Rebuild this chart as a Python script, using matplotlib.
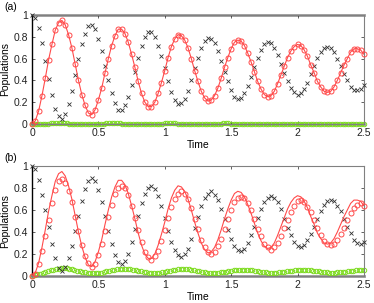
import numpy as np
import matplotlib
matplotlib.use("Agg")
import matplotlib.pyplot as plt

plt.rcParams["font.family"] = ["Liberation Sans", "DejaVu Sans"]

# time grid of the red / black samples (step 0.025) and of the green samples (step 0.02)
t = np.linspace(0, 2.5, 101)
t_g = np.linspace(0, 2.5, 126)

# panel (a): red curve (line and circles coincide), black crosses, green circles
red_a = [0.00, 0.03, 0.12, 0.26, 0.42, 0.59, 0.73, 0.86, 0.93, 0.95,
         0.91, 0.82, 0.70, 0.55, 0.40, 0.27, 0.17, 0.10, 0.085, 0.13,
         0.22, 0.33, 0.47, 0.60, 0.72, 0.81, 0.87, 0.87, 0.83, 0.75,
         0.64, 0.52, 0.39, 0.28, 0.20, 0.16, 0.16, 0.20, 0.28, 0.38,
         0.49, 0.61, 0.71, 0.78, 0.82, 0.81, 0.77, 0.70, 0.60, 0.49,
         0.39, 0.30, 0.24, 0.21, 0.22, 0.26, 0.33, 0.42, 0.52, 0.61,
         0.69, 0.75, 0.77, 0.76, 0.72, 0.65, 0.57, 0.48, 0.39, 0.32,
         0.27, 0.25, 0.26, 0.30, 0.37, 0.45, 0.53, 0.61, 0.67, 0.71,
         0.73, 0.72, 0.68, 0.62, 0.54, 0.47, 0.39, 0.34, 0.30, 0.29,
         0.30, 0.34, 0.40, 0.47, 0.54, 0.60, 0.66, 0.69, 0.69, 0.68,
         0.64]
black_a = [1.00, 0.97, 0.88, 0.74, 0.58, 0.41, 0.27, 0.14, 0.07, 0.05,
           0.09, 0.18, 0.30, 0.45, 0.60, 0.73, 0.83, 0.90, 0.91, 0.87,
           0.78, 0.67, 0.53, 0.40, 0.28, 0.19, 0.13, 0.13, 0.17, 0.25,
           0.36, 0.48, 0.61, 0.72, 0.80, 0.84, 0.84, 0.80, 0.72, 0.62,
           0.51, 0.39, 0.29, 0.22, 0.18, 0.19, 0.23, 0.30, 0.40, 0.51,
           0.61, 0.70, 0.76, 0.79, 0.78, 0.74, 0.67, 0.58, 0.48, 0.39,
           0.31, 0.25, 0.23, 0.24, 0.28, 0.35, 0.43, 0.52, 0.61, 0.68,
           0.73, 0.75, 0.74, 0.70, 0.63, 0.55, 0.47, 0.39, 0.33, 0.29,
           0.27, 0.28, 0.32, 0.38, 0.46, 0.53, 0.61, 0.66, 0.70, 0.71,
           0.70, 0.66, 0.60, 0.53, 0.46, 0.40, 0.34, 0.31, 0.31, 0.32,
           0.36]
green_a = [0.000, 0.001, 0.002, 0.003, 0.003, 0.004, 0.004, 0.005, 0.005, 0.005,
           0.005, 0.005, 0.005, 0.005, 0.004, 0.004, 0.003, 0.003, 0.003, 0.003,
           0.003, 0.003, 0.003, 0.003, 0.003, 0.004, 0.004, 0.004, 0.005, 0.005,
           0.005, 0.005, 0.005, 0.005, 0.004, 0.004, 0.004, 0.003, 0.003, 0.003,
           0.003, 0.003, 0.003, 0.003, 0.003, 0.003, 0.004, 0.004, 0.004, 0.004,
           0.005, 0.005, 0.005, 0.005, 0.005, 0.004, 0.004, 0.004, 0.004, 0.003,
           0.003, 0.003, 0.003, 0.003, 0.003, 0.003, 0.003, 0.004, 0.004, 0.004,
           0.004, 0.004, 0.005, 0.005, 0.005, 0.004, 0.004, 0.004, 0.004, 0.004,
           0.003, 0.003, 0.003, 0.003, 0.003, 0.003, 0.003, 0.004, 0.004, 0.004,
           0.004, 0.004, 0.004, 0.004, 0.004, 0.004, 0.004, 0.004, 0.004, 0.004,
           0.003, 0.003, 0.003, 0.003, 0.003, 0.003, 0.003, 0.004, 0.004, 0.004,
           0.004, 0.004, 0.004, 0.004, 0.004, 0.004, 0.004, 0.004, 0.004, 0.004,
           0.003, 0.003, 0.003, 0.003, 0.003, 0.003]

# panel (b): same red line, lagging red circles, black crosses, green circles
red_b = [0.00, 0.02, 0.11, 0.23, 0.36, 0.51, 0.66, 0.78, 0.86, 0.88,
         0.85, 0.77, 0.67, 0.54, 0.41, 0.28, 0.18, 0.12, 0.085, 0.11,
         0.19, 0.29, 0.41, 0.54, 0.65, 0.75, 0.80, 0.82, 0.80, 0.74,
         0.64, 0.53, 0.42, 0.31, 0.22, 0.17, 0.15, 0.18, 0.23, 0.32,
         0.42, 0.53, 0.63, 0.70, 0.75, 0.77, 0.75, 0.70, 0.62, 0.52,
         0.43, 0.33, 0.26, 0.22, 0.20, 0.22, 0.27, 0.34, 0.43, 0.52,
         0.60, 0.67, 0.71, 0.72, 0.71, 0.66, 0.60, 0.52, 0.43, 0.36,
         0.29, 0.26, 0.24, 0.26, 0.30, 0.36, 0.44, 0.51, 0.58, 0.64,
         0.68, 0.69, 0.67, 0.63, 0.58, 0.51, 0.44, 0.37, 0.32, 0.29,
         0.28, 0.29, 0.33, 0.38, 0.44, 0.51, 0.57, 0.62, 0.65, 0.66,
         0.64]
black_b = [1.00, 0.97, 0.87, 0.74, 0.60, 0.45, 0.29, 0.16, 0.07, 0.05,
           0.08, 0.16, 0.27, 0.41, 0.55, 0.68, 0.79, 0.86, 0.89, 0.86,
           0.78, 0.67, 0.55, 0.41, 0.29, 0.19, 0.13, 0.11, 0.14, 0.20,
           0.31, 0.43, 0.55, 0.66, 0.75, 0.80, 0.82, 0.79, 0.73, 0.64,
           0.53, 0.41, 0.31, 0.24, 0.19, 0.17, 0.20, 0.25, 0.34, 0.44,
           0.54, 0.64, 0.71, 0.75, 0.77, 0.74, 0.69, 0.61, 0.52, 0.42,
           0.34, 0.27, 0.24, 0.23, 0.25, 0.30, 0.37, 0.45, 0.53, 0.61,
           0.67, 0.71, 0.73, 0.71, 0.67, 0.61, 0.52, 0.44, 0.37, 0.31,
           0.27, 0.26, 0.28, 0.33, 0.38, 0.45, 0.52, 0.59, 0.65, 0.68,
           0.69, 0.68, 0.64, 0.59, 0.52, 0.45, 0.39, 0.33, 0.30, 0.29,
           0.31]
green_b = [0.000, 0.006, 0.014, 0.022, 0.030, 0.037, 0.044, 0.051, 0.057, 0.063,
           0.067, 0.069, 0.070, 0.069, 0.066, 0.062, 0.056, 0.050, 0.044, 0.038,
           0.033, 0.028, 0.025, 0.024, 0.025, 0.027, 0.031, 0.035, 0.041, 0.047,
           0.052, 0.057, 0.061, 0.064, 0.066, 0.066, 0.064, 0.061, 0.057, 0.052,
           0.046, 0.041, 0.036, 0.032, 0.028, 0.027, 0.026, 0.027, 0.030, 0.034,
           0.038, 0.043, 0.048, 0.053, 0.057, 0.060, 0.062, 0.063, 0.062, 0.060,
           0.056, 0.052, 0.047, 0.043, 0.038, 0.034, 0.031, 0.029, 0.028, 0.028,
           0.030, 0.032, 0.036, 0.040, 0.045, 0.049, 0.053, 0.056, 0.058, 0.059,
           0.059, 0.058, 0.055, 0.052, 0.048, 0.044, 0.040, 0.036, 0.033, 0.031,
           0.029, 0.029, 0.030, 0.032, 0.035, 0.038, 0.042, 0.046, 0.049, 0.052,
           0.054, 0.056, 0.056, 0.056, 0.054, 0.052, 0.048, 0.045, 0.041, 0.038,
           0.035, 0.033, 0.031, 0.030, 0.031, 0.032, 0.034, 0.036, 0.039, 0.043,
           0.046, 0.049, 0.051, 0.052, 0.053, 0.053]

# grey reference levels drawn in each panel
grey_a = [0.0, 1.0]
grey_b = [0.0]

x_ticks = [0, 0.5, 1, 1.5, 2, 2.5]
x_labels = ["0", "0.5", "1", "1.5", "2", "2.5"]
y_ticks = [0, 0.2, 0.4, 0.6, 0.8, 1]
y_labels = ["0", "0.2", "0.4", "0.6", "0.8", "1"]

RED = "#ff4a4a"
GREEN = "#7ddc1f"
BLACK = "#303030"
GREY = "#9a9a9a"

fig = plt.figure(figsize=(3.74, 3.03), dpi=100)
ax_a = fig.add_axes([0.0856, 0.5908, 0.8874, 0.3597])
ax_b = fig.add_axes([0.0856, 0.0891, 0.8874, 0.3630])


def draw_panel(ax, red_line, red_pts, black_pts, green_pts, grey_levels, tag):
    for g in grey_levels:
        ax.axhline(g, color=GREY, lw=2.0, zorder=1, clip_on=False)
    ax.plot(t_g, green_pts, "o", mfc="none", mec=GREEN, ms=3.2, mew=0.7,
            clip_on=False, zorder=2)
    ax.plot(t, black_pts, "x", color=BLACK, ms=2.6, mew=0.6, clip_on=False, zorder=3)
    ax.plot(t, red_line, "-", color=RED, lw=0.8, zorder=4)
    ax.plot(t, red_pts, "o", mfc="none", mec=RED, ms=3.6, mew=0.7,
            clip_on=False, zorder=5)

    ax.set_xlim(0, 2.5)
    ax.set_ylim(0, 1)
    ax.set_xticks(x_ticks)
    ax.set_xticklabels(x_labels)
    ax.set_yticks(y_ticks)
    ax.set_yticklabels(y_labels)
    ax.tick_params(direction="in", top=True, right=True, length=2.2, width=0.5,
                   labelsize=7.5, pad=3, colors="#222222")
    for side in ["top", "right", "bottom"]:
        ax.spines[side].set_color("#808080")
        ax.spines[side].set_linewidth(0.8)
    ax.spines["left"].set_color("black")
    ax.spines["left"].set_linewidth(1.0)
    ax.set_xlabel("Time", fontsize=7.5, labelpad=1)
    ax.set_ylabel("Populations", fontsize=7.5, labelpad=2)
    ax.text(-0.083, 1.07, tag, transform=ax.transAxes, fontsize=7.5,
            ha="left", va="center")


draw_panel(ax_a, red_a, red_a, black_a, green_a, grey_a, "(a)")
draw_panel(ax_b, red_a, red_b, black_b, green_b, grey_b, "(b)")

fig.savefig("out.png", dpi=100)
